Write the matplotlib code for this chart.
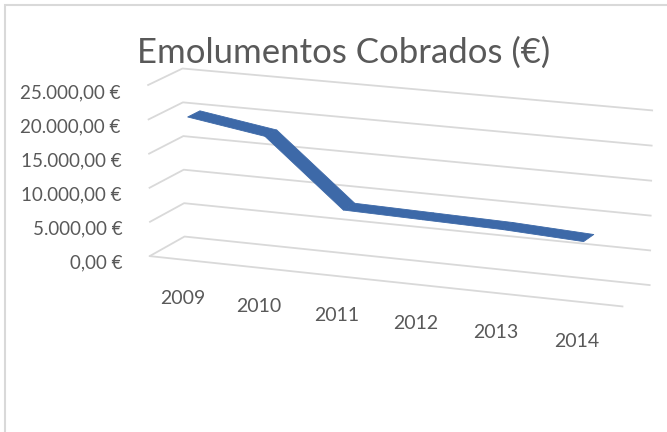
import matplotlib
matplotlib.use("Agg")
import matplotlib.pyplot as plt
import numpy as np
from matplotlib.patches import Rectangle
from matplotlib.ticker import FuncFormatter
from mpl_toolkits.mplot3d.art3d import Poly3DCollection

# dados
anos = ["2009", "2010", "2011", "2012", "2013", "2014"]
valores = [20800, 19050, 9500, 9250, 9000, 8450]
ticks_z = [0, 5000, 10000, 15000, 20000, 25000]

cinza_txt = "#595959"
cinza_grid = "#d9d9d9"
azul = "#3d69a8"

plt.rcParams['font.family'] = ['Lato', 'DejaVu Sans']


def euros(v, pos=None):
    s = "{:,.2f}".format(v)
    s = s.replace(",", "X").replace(".", ",").replace("X", ".")
    return s + " €"


fig = plt.figure(figsize=(6.67, 4.32), dpi=100)
ax = fig.add_axes([0.087, 0.085, 1.0, 0.95], projection='3d')
ax.set_proj_type('persp', focal_length=2)
ax.view_init(elev=14, azim=-68)
ax.set_box_aspect((6, 1, 2.1), zoom=1.29)

x = np.arange(len(anos))
ax.set_xlim(-0.5, len(anos) - 0.5)
ax.set_ylim(0, 1)
ax.set_zlim(0, 25000)

# fita do grafico de linhas 3D (mais perto da frente)
d0, d1 = 0.05, 0.4
faces = []
for i in range(len(x) - 1):
    faces.append([(x[i], d0, valores[i]), (x[i + 1], d0, valores[i + 1]),
                  (x[i + 1], d1, valores[i + 1]), (x[i], d1, valores[i])])
fita = Poly3DCollection(faces, facecolor=azul, edgecolor=azul, linewidth=0.6)
ax.add_collection3d(fita)

for eixo in (ax.xaxis, ax.yaxis, ax.zaxis):
    eixo.set_pane_color((1, 1, 1, 0))
    eixo.pane.set_edgecolor((1, 1, 1, 0))
    eixo._axinfo['tick']['inward_factor'] = 0
    eixo._axinfo['tick']['outward_factor'] = 0
ax.xaxis._axinfo['grid']['color'] = (1, 1, 1, 0)
ax.yaxis._axinfo['grid']['color'] = (1, 1, 1, 0)
ax.zaxis._axinfo['grid']['color'] = cinza_grid
ax.zaxis._axinfo['grid']['linewidth'] = 1.3
ax.xaxis.line.set_color(cinza_grid)
ax.xaxis.line.set_linewidth(1.3)
ax.yaxis.line.set_color((1, 1, 1, 0))
ax.zaxis.line.set_color((1, 1, 1, 0))
ax.zaxis.set_ticks_position('lower')

ax.set_yticks([])
ax.set_xticks(x, anos)
ax.set_zticks(ticks_z)
ax.zaxis.set_major_formatter(FuncFormatter(euros))
ax.tick_params(axis='both', colors=cinza_txt)
ax.tick_params(axis='z', labelsize=13.5, pad=0.5)
ax.tick_params(axis='x', labelsize=14, pad=16)
for t in ax.get_zticklabels():
    t.set_horizontalalignment('right')

fig.text(0.515, 0.877, "Emolumentos Cobrados (€)", ha='center', va='center',
         fontsize=25, color=cinza_txt)

fig.patches.append(Rectangle((5 / 667, -0.1), 1.2, 1.1 - 5 / 432, transform=fig.transFigure,
                             fill=False, edgecolor=cinza_grid, linewidth=1.5))

fig.savefig("out.png", dpi=100)
